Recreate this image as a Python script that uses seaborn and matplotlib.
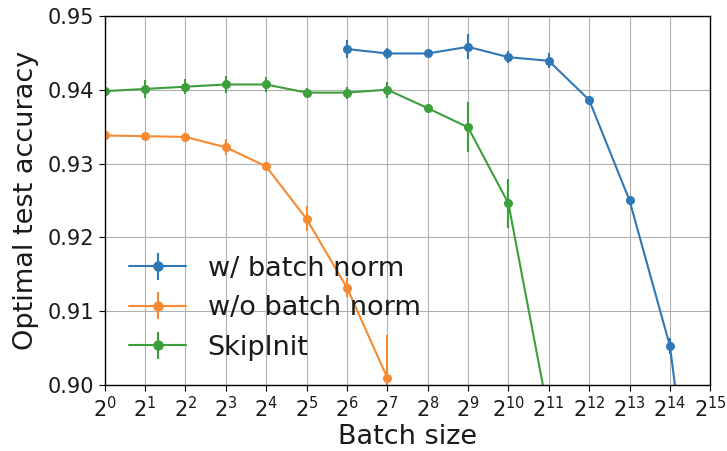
import numpy as np
import pandas as pd
import seaborn as sns
import matplotlib
matplotlib.use("Agg")
import matplotlib.pyplot as plt

# values
bn_exp = [6, 7, 8, 9, 10, 11, 12, 13, 14, 15]
bn_acc = [0.9455, 0.9449, 0.9449, 0.9458, 0.9444, 0.9439, 0.9386, 0.9250, 0.9053, 0.8630]
bn_err = [0.0012, 0.0007, 0.0004, 0.0017, 0.0008, 0.0010, 0.0006, 0.0004, 0.0011, 0.0010]

nobn_exp = [0, 1, 2, 3, 4, 5, 6, 7]
nobn_acc = [0.9338, 0.9337, 0.9336, 0.9322, 0.9296, 0.9225, 0.9132, 0.9010]
nobn_err = [0.0004, 0.0004, 0.0006, 0.0011, 0.0006, 0.0017, 0.0013, 0.0058]

skip_exp = [0, 1, 2, 3, 4, 5, 6, 7, 8, 9, 10, 11]
skip_acc = [0.9398, 0.9401, 0.9404, 0.9407, 0.9407, 0.9396, 0.9396, 0.9400, 0.9375, 0.9349, 0.9246, 0.8958]
skip_err = [0.0006, 0.0012, 0.0010, 0.0012, 0.0010, 0.0006, 0.0008, 0.0011, 0.0005, 0.0034, 0.0033, 0.0010]

labels = ["w/ batch norm", "w/o batch norm", "SkipInit"]
colors = ["#2f78b5", "#f58a32", "#3c9f3c"]

series = [(bn_exp, bn_acc, bn_err), (nobn_exp, nobn_acc, nobn_err), (skip_exp, skip_acc, skip_err)]
df = pd.concat([
    pd.DataFrame({"batch": 2.0 ** np.array(e), "acc": a, "err": s, "model": lab})
    for (e, a, s), lab in zip(series, labels)
])

sns.set_style("whitegrid", {"axes.edgecolor": "black", "grid.color": "#b0b0b0",
                            "xtick.bottom": True, "ytick.left": True})
plt.rcParams["font.family"] = ["DejaVu Sans"]

fig, ax = plt.subplots(figsize=(7.27, 4.51), dpi=100)
fig.subplots_adjust(left=0.144, right=0.977, top=0.965, bottom=0.146)

sns.lineplot(data=df, x="batch", y="acc", hue="model", palette=colors,
             hue_order=labels, marker="o", markersize=6.5, markeredgewidth=0,
             linewidth=1.5, ax=ax, legend=False)

handles = []
for lab, c in zip(labels, colors):
    d = df[df["model"] == lab]
    ax.errorbar(d["batch"], d["acc"], yerr=d["err"], fmt="none", ecolor=c, elinewidth=1.5)
    h = ax.errorbar([np.nan], [np.nan], yerr=[np.nan], fmt="o-", color=c,
                    markersize=6.5, linewidth=1.5, elinewidth=1.5)
    handles.append(h)

ax.set_xscale("log", base=2)
ax.set_xlim(1, 2 ** 15)
ax.set_ylim(0.90, 0.95)
ax.set_xticks([2.0 ** k for k in range(16)])
ax.set_xticklabels([f"$2^{{{k}}}$" for k in range(16)])
ax.minorticks_off()
ax.set_yticks([0.90, 0.91, 0.92, 0.93, 0.94, 0.95])
ax.set_yticklabels(["0.90", "0.91", "0.92", "0.93", "0.94", "0.95"])
ax.tick_params(labelsize=15, length=4, color="black", labelcolor="#1a1a1a")
ax.set_xlabel("Batch size", fontsize=19.5, labelpad=2, color="#1a1a1a")
ax.set_ylabel("Optimal test accuracy", fontsize=19.5, labelpad=6, color="#1a1a1a")
for sp in ax.spines.values():
    sp.set_color("black")
    sp.set_linewidth(1.0)

leg = ax.legend(handles, labels, loc="lower left", frameon=False, fontsize=19.5,
                handlelength=2.1, handletextpad=0.8, labelspacing=0.5,
                bbox_to_anchor=(0.0, 0.0))
for t in leg.get_texts():
    t.set_color("#1a1a1a")

fig.savefig("out.png", dpi=100)
